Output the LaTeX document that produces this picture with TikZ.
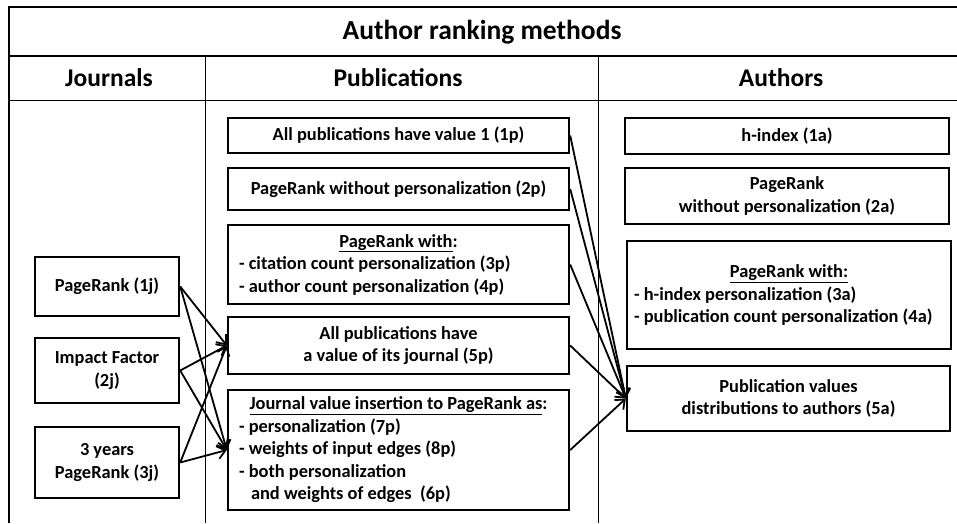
\documentclass[tikz,border=0pt]{standalone}
\usepackage{fontspec}
\setmainfont{Carlito}
\usetikzlibrary{arrows.meta}

\begin{document}
\begin{tikzpicture}[x=1pt,y=-1pt,
            box/.style={draw,line width=2.4pt,inner sep=0pt,align=center,font=\fontsize{18.4}{22.5}\selectfont\bfseries},
            listbox/.style={box,align=flush left,text width=#1},
            head/.style={font=\fontsize{25.5}{30}\selectfont\bfseries},
            link/.style={line width=1.8pt,-{Straight Barb[length=8pt,width=13pt]}}]
            \useasboundingbox (0,0) rectangle (957,523);
            \draw[line width=2pt] (9,523) -- (9,7);
            \draw[line width=2.5pt] (8,7) -- (957,7);
            \draw[line width=2pt] (9,56) -- (957,56);
            \draw[line width=1pt] (9,100) -- (957,100);
            \draw[line width=1pt] (205,56) -- (205,523);
            \draw[line width=1pt] (598,56) -- (598,523);
            \node[font=\fontsize{27.5}{32}\selectfont\bfseries] (title) at (482,32) {Author ranking methods};
            \node[head] (journals) at (109,78) {Journals};
            \node[head] (publications) at (398,78) {Publications};
            \node[head] (authors) at (781,78) {Authors};
            \node[box,minimum width=144pt,minimum height=59pt] (j1) at (107,286.5) {PageRank (1j)};
            \node[box,minimum width=144pt,minimum height=65pt] (j2) at (107,370.5) {Impact Factor\\(2j)};
            \node[box,minimum width=144pt,minimum height=71pt] (j3) at (107,462.5) {3 years\\PageRank (3j)};
            \node[box,minimum width=341pt,minimum height=35pt] (p1) at (398.5,135.5) {All publications have value 1 (1p)};
            \node[box,minimum width=341pt,minimum height=42pt] (p2) at (398.5,189) {PageRank without personalization (2p)};
            \node[listbox=319pt,minimum width=341pt,minimum height=79pt] (p3) at (398.5,264.5)
                {\makebox[\linewidth]{\underline{PageRank with}:}\\
                 - citation count personalization (3p)\\
                 - author count personalization (4p)};
            \node[box,minimum width=341pt,minimum height=57pt] (p5) at (398.5,345.5) {All publications have\\a value of its journal (5p)};
            \node[listbox=319pt,minimum width=341pt,minimum height=120pt] (p6) at (398.5,450)
                {\makebox[\linewidth]{\underline{Journal value insertion to PageRank as}:}\\
                 - personalization (7p)\\
                 - weights of input edges (8p)\\
                 - both personalization\\
                 \hspace*{12pt}and weights of edges\ \ (6p)};
            \node[box,minimum width=324pt,minimum height=36pt] (a1) at (787,136) {h-index (1a)};
            \node[box,minimum width=324pt,minimum height=56pt] (a2) at (787,196) {PageRank\\without personalization (2a)};
            \node[listbox=310pt,minimum width=324pt,minimum height=108pt] (a3) at (789,295)
                {\makebox[\linewidth]{\underline{PageRank with:}}\\
                 - h-index personalization (3a)\\
                 - publication count personalization (4a)};
            \node[box,minimum width=323pt,minimum height=65pt] (a5) at (788.5,398.5) {Publication values\\distributions to authors (5a)};
            \draw[link] (j1.east) -- (p5.west);
            \draw[link] (j1.east) -- (p6.west);
            \draw[link] (j2.east) -- (p5.west);
            \draw[link] (j2.east) -- (p6.west);
            \draw[link] (j3.east) -- (p5.west);
            \draw[link] (j3.east) -- (p6.west);
            \draw[link] (p1.east) -- (a5.west);
            \draw[link] (p2.east) -- (a5.west);
            \draw[link] (p3.east) -- (a5.west);
            \draw[link] (p5.east) -- (a5.west);
            \draw[link] (p6.east) -- (a5.west);
        \end{tikzpicture}
\end{document}
